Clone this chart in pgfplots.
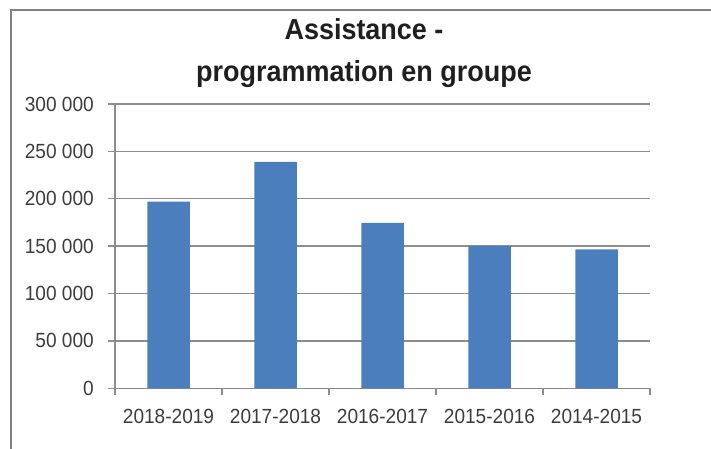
\documentclass[border=0pt]{standalone}
\usepackage{fontspec}
\setmainfont[FakeStretch=0.93]{Liberation Sans}
\usepackage{pgfplots}
\pgfplotsset{compat=1.18}

\definecolor{barblue}{RGB}{74,126,189}
\definecolor{gridgray}{RGB}{140,140,140}
\definecolor{labelgray}{RGB}{60,60,60}
\definecolor{framegray}{RGB}{130,130,130}

\begin{document}
\begin{tikzpicture}[x=1pt,y=1pt]
    \path[use as bounding box] (0,0) rectangle (711,449);
    % chart frame (left and top edges only are visible)
    \draw[framegray, line width=1.5pt] (11,0) -- (11,439) -- (711,439);
    % title
    \node[anchor=base, text=black!88] at (364,409)
        {\fontsize{29}{35}\selectfont\bfseries Assistance -};
    \node[anchor=base, text=black!88] at (364,367.5)
        {\fontsize{29}{35}\selectfont\bfseries programmation en groupe};

    \begin{axis}[
        at={(115pt,60.7pt)}, anchor=south west,
        scale only axis,
        width=535pt, height=284.3pt,
        ybar, bar width=42.5pt,
        xmin=-0.5, xmax=4.5,
        ymin=0, ymax=300000,
        axis lines*=left,
        axis line style={gridgray, line width=1.3pt},
        ymajorgrids,
        grid style={gridgray, line width=1.3pt},
        ytick={0,50000,100000,150000,200000,250000,300000},
        yticklabels={0,50 000,100 000,150 000,200 000,250 000,300 000},
        scaled y ticks=false,
        % tick marks between categories, names placed as extra ticks
        xtick={-0.5,0.5,1.5,2.5,3.5,4.5},
        xticklabels={},
        extra x ticks={0,1,2,3,4},
        extra x tick labels={2018-2019,2017-2018,2016-2017,2015-2016,2014-2015},
        extra x tick style={major tick length=0pt, grid=none},
        tick align=outside,
        major tick length=7pt,
        tick style={gridgray, line width=1.3pt},
        tick label style={font=\fontsize{20.5}{24}\selectfont, text=labelgray,
            /pgf/number format/assume math mode=true},
        yticklabel style={anchor=east, inner sep=0pt, xshift=-14pt},
        xticklabel style={anchor=north, inner sep=0pt, yshift=-21pt},
    ]
        \addplot[fill=barblue, draw=none] coordinates {
            (0, 197000)
            (1, 239000)
            (2, 174500)
            (3, 150000)
            (4, 146500)
        };
    \end{axis}
\end{tikzpicture}
\end{document}
